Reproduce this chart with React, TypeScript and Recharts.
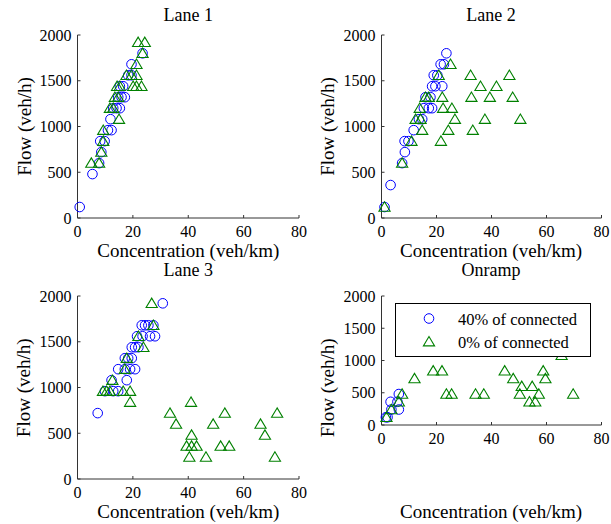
import React from 'react';
import { ScatterChart, Scatter, XAxis, YAxis, Legend } from 'recharts';

const FONT = 'Liberation Serif, Times New Roman, serif';

const xTicks = [0, 20, 40, 60, 80];
const yTicks = [0, 500, 1000, 1500, 2000];
const panelTitles = ['Lane 1', 'Lane 2', 'Lane 3', 'Onramp'];
const seriesNames = ['40% of connected', '0% of connected'];
const xLabel = 'Concentration (veh/km)';
const yLabel = 'Flow (veh/h)';

// Lane 1
const lane1ConnX = [0.8, 5.4, 7.8, 8.6, 8.2, 9.8, 11.0, 12.3, 11.9, 12.9, 14.1, 15.3, 14.7, 15.9, 17.1, 15.3, 16.5, 18.3, 19.5, 19.5, 23.5];
const lane1ConnY = [120, 480, 600, 720, 840, 840, 960, 960, 1080, 1200, 1200, 1200, 1320, 1320, 1320, 1440, 1440, 1560, 1560, 1680, 1800];
const lane1NoneX = [5.0, 7.8, 8.6, 9.3, 9.3, 11.7, 12.9, 15.0, 13.5, 14.7, 14.3, 15.3, 20.1, 21.3, 23.1, 17.7, 19.5, 21.3, 21.3, 23.5, 21.9, 24.3];
const lane1NoneY = [600, 600, 720, 840, 960, 1200, 1200, 1080, 1320, 1320, 1440, 1440, 1440, 1440, 1440, 1560, 1560, 1560, 1680, 1800, 1920, 1920];

// Lane 2
const lane2ConnX = [1.1, 3.3, 7.5, 8.5, 8.4, 9.8, 11.7, 13.6, 14.8, 15.4, 17.2, 18.4, 16.0, 17.8, 18.4, 19.6, 22.1, 19.0, 20.3, 21.5, 22.7, 23.6];
const lane2ConnY = [120, 360, 600, 720, 840, 840, 960, 1080, 1080, 1200, 1200, 1200, 1320, 1320, 1440, 1440, 1440, 1560, 1560, 1680, 1680, 1800];
const lane2NoneX = [1.1, 7.5, 10.9, 14.8, 12.4, 14.2, 13.9, 16.0, 17.2, 20.8, 25.1, 22.1, 22.4, 25.6, 26.7, 24.3, 21.6, 32.4, 46.5, 36.0, 41.8, 32.7, 39.4, 47.7, 37.6, 50.5, 33.2];
const lane2NoneY = [120, 600, 840, 960, 1080, 1080, 1200, 1320, 1320, 1560, 1680, 1320, 1200, 1200, 1080, 960, 840, 1560, 1560, 1440, 1440, 1320, 1320, 1320, 1080, 1080, 960];

// Lane 3
const lane3ConnX = [7.3, 9.9, 12.9, 14.7, 12.3, 17.8, 14.7, 17.1, 19.0, 20.8, 17.1, 18.3, 19.6, 19.6, 20.8, 22.0, 21.5, 23.5, 26.2, 28.0, 23.2, 24.4, 25.6, 27.4, 30.8];
const lane3ConnY = [720, 960, 960, 960, 1080, 1080, 1200, 1200, 1200, 1200, 1320, 1320, 1320, 1440, 1440, 1440, 1560, 1560, 1560, 1560, 1680, 1680, 1680, 1680, 1920];
const lane3NoneX = [9.2, 10.5, 11.7, 16.5, 19.0, 19.0, 12.6, 17.1, 17.8, 23.8, 22.0, 27.4, 26.8, 41.0, 33.4, 35.6, 53.2, 49.0, 72.1, 66.1, 67.7, 41.2, 39.4, 41.2, 43.0, 51.7, 54.8, 40.4, 46.4, 71.3];
const lane3NoneY = [960, 960, 960, 960, 960, 840, 1080, 1200, 1320, 1440, 1560, 1680, 1920, 840, 720, 600, 720, 600, 720, 600, 480, 480, 360, 360, 360, 360, 360, 240, 240, 240];

// Onramp
const rampConnX = [1.6, 2.2, 3.6, 6.3, 3.3, 5.8, 6.3];
const rampConnY = [120, 120, 240, 240, 360, 360, 480];
const rampNoneX = [65.5, 18.8, 22.0, 44.8, 58.8, 12.0, 47.9, 59.6, 51.0, 54.8, 7.5, 23.6, 25.5, 34.2, 37.2, 50.3, 57.2, 69.7, 53.8, 55.9, 6.3, 3.6, 1.8];
const rampNoneY = [1080, 840, 840, 840, 840, 720, 720, 720, 600, 600, 480, 480, 480, 480, 480, 480, 480, 480, 360, 360, 360, 240, 120];

const zip = (xs: number[], ys: number[]) => xs.map((x, i) => ({ x, y: ys[i] }));

const BLUE = '#0000ff';
const GREEN = '#008000';

const CircleMark = (p: any) => (
  <circle cx={p.cx} cy={p.cy} r={4.8} fill="none" stroke={BLUE} strokeWidth={1} />
);
const TriMark = (p: any) => (
  <polygon
    points={`${p.cx},${p.cy - 5.2} ${p.cx - 5.6},${p.cy + 4.2} ${p.cx + 5.6},${p.cy + 4.2}`}
    fill="none"
    stroke={GREEN}
    strokeWidth={1.1}
  />
);

const XTick = (p: any) => (
  <text x={p.x} y={p.y} dy="0.71em" textAnchor="middle" fill="#000" style={{ fontFamily: FONT, fontSize: 16 }}>
    {p.payload.value}
  </text>
);
const YTick = (p: any) => (
  <text x={p.x} y={p.y} dy="0.355em" textAnchor="end" fill="#000" style={{ fontFamily: FONT, fontSize: 16 }}>
    {p.payload.value}
  </text>
);

const LegendBox = () => (
  <svg width={196} height={54} style={{ display: 'block' }}>
    <rect x={0.5} y={0.5} width={195} height={53} fill="#fff" stroke="#000" strokeWidth={1} />
    <circle cx={34} cy={15.5} r={4.8} fill="none" stroke={BLUE} strokeWidth={1} />
    <polygon points={`34,33.5 28.4,42.9 39.6,42.9`} fill="none" stroke={GREEN} strokeWidth={1.1} />
    <text x={63} y={22} style={{ fontFamily: FONT, fontSize: 16.5 }} fill="#000">{seriesNames[0]}</text>
    <text x={63} y={45} style={{ fontFamily: FONT, fontSize: 16.5 }} fill="#000">{seriesNames[1]}</text>
  </svg>
);

const ML = 77.5;
const MT = 35;
const PH = 183;
const XH = 45;
const MR = 10;

type PanelProps = {
  left: number;
  top: number;
  pw: number;
  conn: { x: number; y: number }[];
  none: { x: number; y: number }[];
  legend?: boolean;
};

function Panel({ left, top, pw, conn, none, legend }: PanelProps) {
  return (
    <div style={{ position: 'absolute', left: left - ML, top: top - MT }}>
      <ScatterChart
        width={ML + pw + MR}
        height={MT + PH + XH}
        margin={{ top: MT, right: MR, bottom: 0, left: 0 }}
      >
        <XAxis
          type="number"
          dataKey="x"
          domain={[0, 80]}
          ticks={xTicks}
          height={XH}
          tickSize={-3}
          tickMargin={10.5}
          tick={XTick}
          axisLine={{ stroke: '#333', strokeWidth: 1 }}
          tickLine={{ stroke: '#333' }}
          interval={0}
        />
        <YAxis
          type="number"
          dataKey="y"
          domain={[0, 2000]}
          ticks={yTicks}
          width={ML}
          tickSize={-3}
          tickMargin={9}
          tick={YTick}
          axisLine={{ stroke: '#333', strokeWidth: 1 }}
          tickLine={{ stroke: '#333' }}
          interval={0}
        />
        <Scatter name={seriesNames[0]} data={conn} shape={CircleMark} isAnimationActive={false} />
        <Scatter name={seriesNames[1]} data={none} shape={TriMark} isAnimationActive={false} />
        {legend ? (
          <Legend
            content={() => <LegendBox />}
            wrapperStyle={{ position: 'absolute', left: 91.5, top: 41.5, width: 196, height: 54 }}
          />
        ) : null}
      </ScatterChart>
    </div>
  );
}

const cols = [{ left: 77.5, pw: 221.5 }, { left: 381, pw: 220 }];
const rows = [35, 296.3];
const titleOffsets = [14, 20];

export default function App() {
  const panels = [
    { conn: zip(lane1ConnX, lane1ConnY), none: zip(lane1NoneX, lane1NoneY) },
    { conn: zip(lane2ConnX, lane2ConnY), none: zip(lane2NoneX, lane2NoneY) },
    { conn: zip(lane3ConnX, lane3ConnY), none: zip(lane3NoneX, lane3NoneY) },
    { conn: zip(rampConnX, rampConnY), none: zip(rampNoneX, rampNoneY) },
  ];
  return (
    <div
      style={{
        position: 'absolute',
        left: 0,
        top: 0,
        width: 611,
        height: 524,
        overflow: 'hidden',
        background: '#fff',
      }}
    >
      {panels.map((p, i) => {
        const c = cols[i % 2];
        const r = rows[Math.floor(i / 2)];
        return (
          <Panel key={i} left={c.left} top={r} pw={c.pw} conn={p.conn} none={p.none} legend={i === 3} />
        );
      })}
      <svg
        width={611}
        height={524}
        style={{ position: 'absolute', left: 0, top: 0, pointerEvents: 'none' }}
      >
        {panels.map((_, i) => {
          const c = cols[i % 2];
          const row = Math.floor(i / 2);
          const r = rows[row];
          const cx = c.left + c.pw / 2;
          return (
            <g key={i} fill="#000" style={{ fontFamily: FONT }}>
              <text x={cx} y={r - titleOffsets[row]} textAnchor="middle" style={{ fontSize: 18 }}>{panelTitles[i]}</text>
              <text x={cx} y={r + PH + 39} textAnchor="middle" style={{ fontSize: 19 }}>{xLabel}</text>
              <text
                x={c.left - 47}
                y={r + PH / 2}
                textAnchor="middle"
                style={{ fontSize: 19 }}
                transform={`rotate(-90 ${c.left - 47} ${r + PH / 2})`}
              >
                {yLabel}
              </text>
            </g>
          );
        })}
      </svg>
    </div>
  );
}
